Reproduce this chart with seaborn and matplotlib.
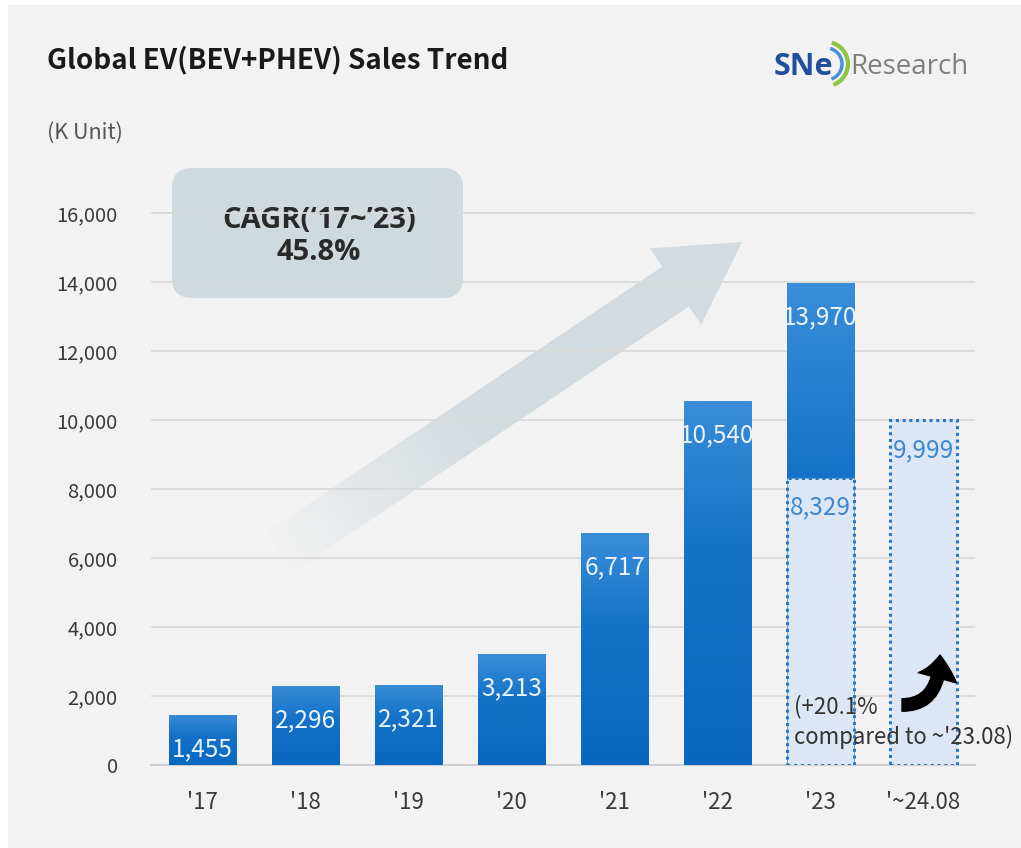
import numpy as np
import pandas as pd
import matplotlib
matplotlib.use("Agg")
import matplotlib.pyplot as plt
import matplotlib.patches as mpatches
from matplotlib.colors import LinearSegmentedColormap, to_rgb
from matplotlib.ticker import FuncFormatter
import seaborn as sns

# ---------------- data ----------------
categories = ["'17", "'18", "'19", "'20", "'21", "'22", "'23", "'~24.08"]
annual_sales = [1455, 2296, 2321, 3213, 6717, 10540, 13970]          # full-year bars ('17-'23)
ytd_categories = ["'23", "'~24.08"]
ytd_sales = [8329, 9999]                                              # Jan-Aug comparison bars
y_ticks = [0, 2000, 4000, 6000, 8000, 10000, 12000, 14000, 16000]
title = "Global EV(BEV+PHEV) Sales Trend"
unit_label = "(K Unit)"
cagr_lines = ["CAGR(\u201817~\u201923)", "45.8%"]
growth_note = ["(+20.1%", "compared to ~'23.08)"]

# ---------------- style ----------------
sns.set_theme(style="white")
plt.rcParams['font.family'] = ['Noto Sans CJK KR', 'DejaVu Sans']
LATIN = ["Open Sans", "DejaVu Sans"]

W, H = 1021, 848
BG = "#f2f2f2"
fig = plt.figure(figsize=(W / 100, H / 100), dpi=100)
fig.patch.set_facecolor("white")

# full-figure pixel-space canvas for decorations (1 unit = 1 pixel, y from top)
deco = fig.add_axes([0, 0, 1, 1], zorder=0)
deco.set_xlim(0, W)
deco.set_ylim(H, 0)
deco.axis("off")
deco.add_patch(mpatches.Rectangle((8, 5), W, H, facecolor=BG, edgecolor="none", zorder=0))

ax = fig.add_axes([151 / W, 83 / H, (975 - 151) / W, (765 - 190) / H], zorder=1)
ax.set_facecolor("none")

df_full = pd.DataFrame({"cat": categories[:len(annual_sales)], "val": annual_sales})
df_ytd = pd.DataFrame({"cat": ytd_categories, "val": ytd_sales})

BAR_W = 0.66
sns.barplot(data=df_full, x="cat", y="val", order=categories, color="#0b6cc3",
            width=BAR_W, saturation=1, ax=ax, zorder=3, edgecolor="none")
full_patches = list(ax.patches)
sns.barplot(data=df_ytd, x="cat", y="val", order=categories, color="#dde6f5",
            width=BAR_W, saturation=1, ax=ax, zorder=5, edgecolor="#2a77c4",
            linewidth=2.2, linestyle=(0, (1, 1.2)))

ymax = (765 - 190) / (69 / 2000)

# gradient on solid bars
cmap = LinearSegmentedColormap.from_list("g", [(0, "#0868c0"), (0.6, "#1473c8"), (1, "#3a8dd8")])
grad = np.linspace(0, 1, 256).reshape(-1, 1)
for p in full_patches:
    x0, y0 = p.get_x(), p.get_y()
    w, h = p.get_width(), p.get_height()
    if h <= 0:
        continue
    im = ax.imshow(grad, extent=[x0, x0 + w, y0, y0 + h], origin="lower",
                   aspect="auto", cmap=cmap, zorder=4)
    im.set_clip_path(p)
ax.set_xlim(-0.5, len(categories) - 0.5)
ax.set_ylim(0, ymax)

# value labels
for i, v in enumerate(annual_sales):
    ax.annotate(f"{v:,}", (i, v), xytext=(0, -34), textcoords="offset pixels",
                ha="center", va="center", color="#eaf3ff", fontsize=17.5, zorder=8)
for c, v in zip(ytd_categories, ytd_sales):
    i = categories.index(c)
    ax.annotate(f"{v:,}", (i, v), xytext=(0, -30), textcoords="offset pixels",
                ha="center", va="center", color="#3f88cf", fontsize=17.5, zorder=8)

# axes styling
ax.set_yticks(y_ticks)
ax.yaxis.set_major_formatter(FuncFormatter(lambda v, p: f"{int(v):,}"))
ax.grid(axis="y", color="#d9d9d9", linewidth=1.3, zorder=0)
ax.set_axisbelow(True)
for s in ["top", "right", "left"]:
    ax.spines[s].set_visible(False)
ax.spines["bottom"].set_color("#cfcfcf")
ax.spines["bottom"].set_linewidth(1.5)
ax.tick_params(axis="y", length=0, pad=24, labelsize=14.5, labelcolor="#3a3a3a")
ax.tick_params(axis="x", length=0, pad=19, labelsize=16, labelcolor="#3a3a3a")
ax.set_xticks(np.arange(-0.5, len(categories), 1.0), minor=True)
ax.tick_params(axis="x", which="minor", length=5, color="#cfcfcf", width=1.2)
ax.set_xlabel("")
ax.set_ylabel("")

# titles
deco.text(47, 60, title, fontsize=20, fontweight="bold", color="#1a1a1a",
          ha="left", va="center")
deco.text(47, 133, unit_label, fontsize=15.5, color="#555555", ha="left", va="center")

# logo
deco.text(774, 67, "SNe", fontsize=22, fontweight="bold", color="#1f4f9d",
          ha="left", va="center", family=LATIN)
deco.text(850, 67, "Research", fontsize=20, color="#7f7f7f", ha="left", va="center",
          family=LATIN)
for r, col, lw in [(22, "#8dc63f", 3), (16, "#4a90d9", 2.5)]:
    deco.add_patch(mpatches.Arc((826, 64), 2 * r, 2 * r, theta1=-75, theta2=70,
                                color=col, lw=lw))

# CAGR box
deco.add_patch(mpatches.FancyBboxPatch((172, 168), 463 - 172, 298 - 168,
                                       boxstyle="round,pad=0,rounding_size=20",
                                       facecolor="#d0d9de", edgecolor="none", zorder=2))
deco.text(319, 220, cagr_lines[0], fontsize=21, fontweight="bold", color="#2a2a2a",
          ha="center", va="center", zorder=3, family=LATIN)
deco.text(319, 253, cagr_lines[1], fontsize=21, fontweight="bold", color="#2a2a2a",
          ha="center", va="center", zorder=3, family=LATIN)

# big trend arrow with faded tail
tail = np.array([280.0, 552.0])
tip = np.array([742.0, 242.0])
d = tip - tail
L = np.hypot(*d)
u = d / L
n = np.array([-u[1], u[0]])
head_len, head_w, shaft_w = 80, 92, 48
base = tip - u * head_len
poly = np.array([tail + n * shaft_w / 2, base + n * shaft_w / 2, base + n * head_w / 2, tip,
                 base - n * head_w / 2, base - n * shaft_w / 2, tail - n * shaft_w / 2])
arrow_poly = mpatches.Polygon(poly, closed=True, facecolor="none", edgecolor="none")
deco.add_patch(arrow_poly)
x0, x1 = poly[:, 0].min(), poly[:, 0].max()
y0, y1 = poly[:, 1].min(), poly[:, 1].max()
gx = np.linspace(x0, x1, 400)
gy = np.linspace(y0, y1, 400)
GX, GY = np.meshgrid(gx, gy)
t = ((GX - tail[0]) * u[0] + (GY - tail[1]) * u[1]) / L
img = np.zeros((400, 400, 4))
img[..., :3] = to_rgb("#d3dbe0")
img[..., 3] = np.clip(0.05 + t / 0.45, 0, 1)
im = deco.imshow(img, extent=[x0, x1, y1, y0], origin="upper", aspect="auto", zorder=1,
                 interpolation="bilinear")
im.set_clip_path(arrow_poly)
deco.set_xlim(0, W)
deco.set_ylim(H, 0)

# growth note + curved arrow
i23 = categories.index("'23")
ax.text(i23 - 0.26, 1680, growth_note[0], fontsize=16, color="#333333",
        ha="left", va="center", zorder=9, clip_on=False)
ax.text(i23 - 0.26, 800, growth_note[1], fontsize=16, color="#333333",
        ha="left", va="center", zorder=9, clip_on=False)
curved = mpatches.FancyArrowPatch((902, 705), (940, 655),
                                  connectionstyle="angle3,angleA=0,angleB=90",
                                  arrowstyle="simple,head_length=1.1,head_width=1.9,tail_width=0.6",
                                  mutation_scale=15, color="black", zorder=10,
                                  shrinkA=0, shrinkB=0)
ov = fig.add_axes([0, 0, 1, 1], zorder=5)
ov.set_xlim(0, W)
ov.set_ylim(H, 0)
ov.axis("off")
ov.add_patch(curved)

fig.savefig("out.png", dpi=100, facecolor=fig.get_facecolor())
